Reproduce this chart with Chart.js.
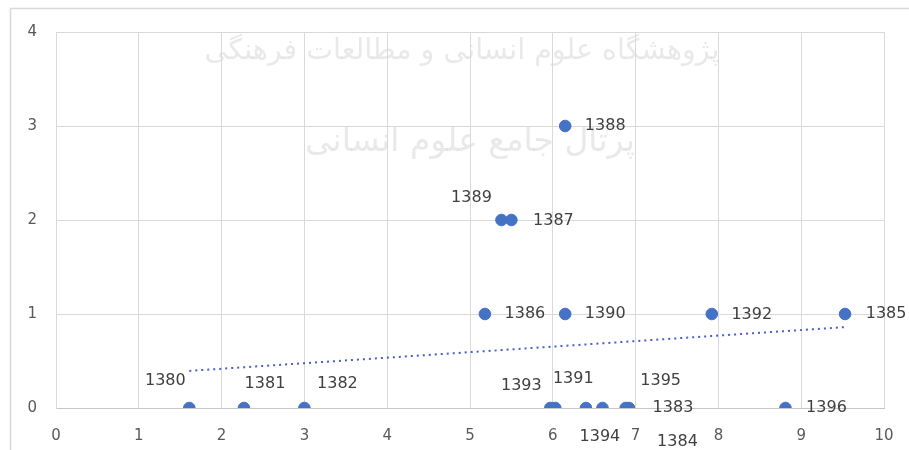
<!DOCTYPE html>
<html>
<head>
<meta charset="utf-8">
<script src="https://cdn.jsdelivr.net/npm/chart.js@4"></script>
<style>
  body { margin: 0; background: #fff; }
  #wrap { width: 909px; height: 450px; }
</style>
</head>
<body>
<div id="wrap"><canvas id="chart" width="909" height="450"></canvas></div>
<script>
// years as point labels, x and y
const years = [1380, 1381, 1382, 1383, 1384, 1385, 1386, 1387, 1388, 1389, 1390, 1391, 1392, 1393, 1394, 1395, 1396];
const xValues = [1.61, 2.27, 3.0, 6.92, 6.6, 9.53, 5.18, 5.5, 6.15, 5.38, 6.15, 6.03, 7.92, 5.97, 6.4, 6.88, 8.81];
const yValues = [0, 0, 0, 0, 0, 1, 1, 2, 3, 2, 1, 0, 1, 0, 0, 0, 0];
const xTicks = [0, 1, 2, 3, 4, 5, 6, 7, 8, 9, 10];
const yTicks = [0, 1, 2, 3, 4];

// where each year label sits relative to its dot (px)
const labelOffsets = [
    [-24, -27], [21, -24], [33, -24], [44, 0], [75, 34], [41, 0], [40, 0], [42, 1], [40, 0],
    [-30, -22], [40, 0], [18, -29], [40, 1], [-29, -22], [14, 29], [35, -27], [41, 0]
];

const points = years.map((yr, i) => ({ x: xValues[i], y: yValues[i] }));

// linear trendline (least squares), like the spreadsheet one
function trendline(xs, ys) {
    const n = xs.length;
    const mx = xs.reduce((a, b) => a + b, 0) / n;
    const my = ys.reduce((a, b) => a + b, 0) / n;
    let sxy = 0, sxx = 0;
    for (let i = 0; i < n; i++) {
        sxy += (xs[i] - mx) * (ys[i] - my);
        sxx += (xs[i] - mx) * (xs[i] - mx);
    }
    const slope = sxy / sxx;
    const icpt = my - slope * mx;
    const x0 = Math.min(...xs), x1 = Math.max(...xs);
    return [{ x: x0, y: icpt + slope * x0 }, { x: x1, y: icpt + slope * x1 }];
}

const backdrop = {
    id: 'backdrop',
    beforeDraw(chart) {
        const ctx = chart.ctx;
        ctx.save();
        ctx.strokeStyle = '#d9d9d9';
        ctx.lineWidth = 1.5;
        ctx.strokeRect(10.5, 8.5, 950, 500);
        // faint watermark from the scanned page
        ctx.fillStyle = 'rgba(120,120,120,0.16)';
        ctx.textAlign = 'center';
        ctx.textBaseline = 'middle';
        const lines = [
            ['پژوهشگاه علوم انسانی و مطالعات فرهنگی', 462, 52, 515],
            ['پرتال جامع علوم انسانی', 470, 142, 330]
        ];
        lines.forEach(([txt, cx, cy, w]) => {
            ctx.font = '40px "DejaVu Sans"';
            const m = ctx.measureText(txt).width;
            const size = 40 * w / m;
            ctx.font = size + 'px "DejaVu Sans"';
            ctx.fillText(txt, cx, cy);
        });
        ctx.restore();
    }
};

const yearLabels = {
    id: 'yearLabels',
    afterDatasetsDraw(chart) {
        const ctx = chart.ctx;
        const meta = chart.getDatasetMeta(0);
        ctx.save();
        ctx.font = '16px "DejaVu Sans"';
        ctx.fillStyle = '#404040';
        ctx.textAlign = 'center';
        ctx.textBaseline = 'middle';
        meta.data.forEach((el, i) => {
            const off = labelOffsets[i];
            ctx.fillText(String(years[i]), el.x + off[0], el.y + off[1]);
        });
        ctx.restore();
    }
};

new Chart(document.getElementById('chart'), {
    type: 'scatter',
    data: {
        datasets: [{
            label: 'years',
            data: points,
            backgroundColor: '#4472C4',
            borderColor: '#4472C4',
            borderWidth: 1,
            pointRadius: 5.8,
            pointHoverRadius: 5.8,
        }, {
            type: 'line',
            label: 'trend',
            data: trendline(xValues, yValues),
            borderColor: '#4a5ec6',
            borderWidth: 2,
            borderDash: [2, 4],
            pointRadius: 0,
            fill: false,
        }]
    },
    options: {
        responsive: false,
        animation: false,
        layout: { padding: { left: 0, top: 32, right: 25, bottom: 0 } },
        plugins: {
            legend: { display: false },
            tooltip: { enabled: false },
        },
        scales: {
            x: {
                type: 'linear',
                min: 0,
                max: 10,
                afterBuildTicks: (s) => { s.ticks = xTicks.map(v => ({ value: v })); },
                afterFit: (s) => { s.height = 42; s.paddingRight = 0; s.paddingLeft = 0; },
                grid: { color: '#d9d9d9', drawTicks: false },
                border: { color: '#c6c6c6' },
                ticks: { color: '#595959', font: { family: 'DejaVu Sans', size: 15 }, padding: 19 },
            },
            y: {
                min: 0,
                max: 4,
                afterBuildTicks: (s) => { s.ticks = yTicks.map(v => ({ value: v })); },
                afterFit: (s) => { s.width = 56; },
                grid: { color: '#d9d9d9', drawTicks: false },
                border: { color: '#d9d9d9' },
                ticks: { color: '#595959', font: { family: 'DejaVu Sans', size: 15 }, padding: 19 },
            }
        }
    },
    plugins: [backdrop, yearLabels]
});
</script>
</body>
</html>
